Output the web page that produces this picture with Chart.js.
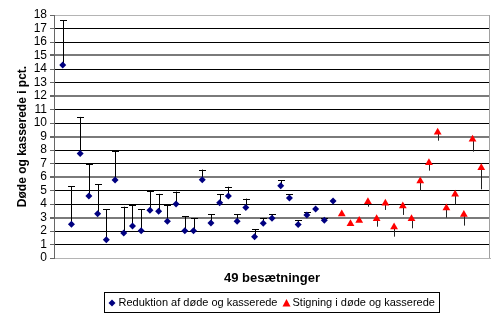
<!DOCTYPE html>
<html>
<head>
<meta charset="utf-8">
<script src="https://cdn.jsdelivr.net/npm/chart.js@4"></script>
<style>
  html, body { margin: 0; padding: 0; background: #fff; }
  #wrap { width: 500px; height: 325px; position: relative; }
</style>
</head>
<body>
<div id="wrap"><canvas id="chart" width="500" height="325"></canvas></div>
<script>
// herds 1-32: reduction (value now, value before)
var reductionNow = [14.3, 2.5, 7.75, 4.6, 3.28, 1.36, 5.78, 1.85, 2.37, 2.02, 3.53, 3.46, 2.72, 4.0, 2.02, 2.02,
    5.8, 2.6, 4.1, 4.6, 2.72, 3.75, 1.58, 2.57, 2.94, 5.35, 4.44, 2.49, 3.19, 3.63, 2.79, 4.22];
var reductionBefore = [17.6, 5.3, 10.45, 6.95, 5.46, 3.6, 7.95, 3.8, 3.95, 3.6, 4.95, 4.75, 3.95, 4.92, 3.1, 2.94,
    6.55, 3.23, 4.72, 5.28, 3.23, 4.4, 2.12, 2.94, 3.23, 5.75, 4.72, 2.79, 3.38, 3.63, 2.94, 4.22];
// herds 33-49: increase
var increaseNow = [3.26, 2.54, 2.77, 4.17, 2.91, 4.05, 2.3, 3.85, 2.91, 5.7, 7.06, 9.31, 3.7, 4.72, 3.23, 8.79, 6.69];
var increaseBefore = [3.26, 2.54, 2.77, 3.8, 2.32, 3.56, 1.58, 3.19, 2.2, 5.0, 6.47, 8.69, 2.99, 3.98, 2.4, 7.88, 5.09];

var seriesNames = ['Reduktion af døde og kasserede', 'Stigning i døde og kasserede'];
var yTicksMax = 18;

var FONT = 'Liberation Sans, Arial, sans-serif';

var reductionPts = reductionNow.map(function(v, i) { return {x: i + 1, y: v, before: reductionBefore[i]}; });
var increasePts = increaseNow.map(function(v, i) { return {x: i + 1 + reductionNow.length, y: v, before: increaseBefore[i]}; });

// lines from "before" to "now" for each herd
var rangeBars = {
    id: 'rangeBars',
    beforeDatasetsDraw: function(chart) {
        var ctx = chart.ctx, xs = chart.scales.x, ys = chart.scales.y;
        ctx.save();
        ctx.lineWidth = 1;
        chart.data.datasets.forEach(function(ds, di) {
            ctx.strokeStyle = di === 0 ? '#000' : '#222';
            ds.data.forEach(function(p) {
                var px = Math.round(xs.getPixelForValue(p.x)) + 0.5;
                var y1 = ys.getPixelForValue(p.y);
                var y2 = ys.getPixelForValue(p.before);
                if (Math.abs(y1 - y2) < 0.5) return;
                ctx.beginPath();
                ctx.moveTo(px, y1);
                ctx.lineTo(px, y2);
                if (di === 0) {
                    var cy = Math.round(y2) + 0.5;
                    ctx.moveTo(px - 3.5, cy);
                    ctx.lineTo(px + 3.5, cy);
                }
                ctx.stroke();
            });
        });
        ctx.restore();
    }
};

// plot frame + boxed legend
var frameLegend = {
    id: 'frameLegend',
    beforeDatasetsDraw: function(chart) {
        var ctx = chart.ctx, a = chart.chartArea;
        ctx.save();
        ctx.strokeStyle = '#a0a0a0';
        ctx.lineWidth = 1;
        ctx.beginPath();
        ctx.moveTo(Math.round(a.right) - 0.5, a.top);
        ctx.lineTo(Math.round(a.right) - 0.5, a.bottom);
        ctx.stroke();
        ctx.restore();
    },
    afterDraw: function(chart) {
        var ctx = chart.ctx, a = chart.chartArea;
        ctx.save();
        ctx.font = '11px ' + FONT;
        ctx.textBaseline = 'middle';
        var w0 = ctx.measureText(seriesNames[0]).width;
        var w1 = ctx.measureText(seriesNames[1]).width;
        var mark = 10, gap = 5;
        var total = mark + w0 + gap + mark + w1;
        var pad = 4.5;
        var cx = (a.left + a.right) / 2;
        var left = Math.round(cx - total / 2 - pad);
        var top = 292, h = 20;
        ctx.strokeStyle = '#000';
        ctx.lineWidth = 1;
        ctx.strokeRect(left + 0.5, top + 0.5, Math.round(total + pad * 2), h);
        var y = top + h / 2 + 1;
        var x = left + pad;
        // diamond
        ctx.fillStyle = '#000080';
        ctx.beginPath();
        ctx.moveTo(x + 3.5, y - 3.5);
        ctx.lineTo(x + 7, y);
        ctx.lineTo(x + 3.5, y + 3.5);
        ctx.lineTo(x, y);
        ctx.closePath();
        ctx.fill();
        ctx.fillStyle = '#000';
        ctx.fillText(seriesNames[0], x + mark, y);
        x += mark + w0 + gap;
        // triangle
        ctx.fillStyle = '#ff0000';
        ctx.beginPath();
        ctx.moveTo(x + 4, y - 4);
        ctx.lineTo(x + 8, y + 3.5);
        ctx.lineTo(x, y + 3.5);
        ctx.closePath();
        ctx.fill();
        ctx.fillStyle = '#000';
        ctx.fillText(seriesNames[1], x + mark, y);
        ctx.restore();
    }
};

function gridColor(c) {
    var v = c.tick ? c.tick.value : 0;
    if (v === 0 || v === yTicksMax) return '#b4b4b4';
    return v % 3 === 0 ? '#7a7a7a' : '#000';
}

new Chart(document.getElementById('chart'), {
    type: 'scatter',
    data: {
        datasets: [{
            label: seriesNames[0],
            data: reductionPts,
            pointStyle: 'rectRot',
            pointRadius: 3.5,
            backgroundColor: '#000080',
            borderColor: '#000080',
            borderWidth: 0
        }, {
            label: seriesNames[1],
            data: increasePts,
            pointStyle: 'triangle',
            pointRadius: 4.5,
            backgroundColor: '#ff0000',
            borderColor: '#ff0000',
            borderWidth: 0
        }]
    },
    options: {
        responsive: false,
        animation: false,
        devicePixelRatio: 1,
        layout: { padding: { left: 0, right: 10, top: 15, bottom: 0 } },
        plugins: {
            legend: { display: false },
            tooltip: { enabled: false }
        },
        scales: {
            x: {
                type: 'linear',
                min: 0,
                max: 50,
                ticks: { display: false },
                grid: { display: false },
                border: { display: true, color: '#b4b4b4' },
                title: {
                    display: true,
                    text: '49 besætninger',
                    color: '#000',
                    font: { family: FONT, size: 13, weight: 'bold' },
                    padding: { top: 0, bottom: 39 }
                },
                afterFit: function(s) { s.height = 67; }
            },
            y: {
                min: 0,
                max: yTicksMax,
                ticks: {
                    stepSize: 1,
                    autoSkip: false,
                    color: '#000',
                    padding: 3,
                    font: { family: FONT, size: 12 }
                },
                grid: {
                    color: gridColor,
                    lineWidth: function(c) { var v = c.tick ? c.tick.value : 0; return (v % 3 === 0 && v !== 0 && v !== yTicksMax) ? 2 : 1; },
                    tickLength: 4,
                    tickColor: '#666'
                },
                border: { display: true, color: '#666' },
                title: {
                    display: true,
                    text: 'Døde og kasserede i pct.',
                    color: '#000',
                    font: { family: FONT, size: 12, weight: 'bold' },
                    padding: { top: 15, bottom: 0 }
                },
                afterFit: function(s) { s.width = 54; }
            }
        }
    },
    plugins: [rangeBars, frameLegend]
});
</script>
</body>
</html>
